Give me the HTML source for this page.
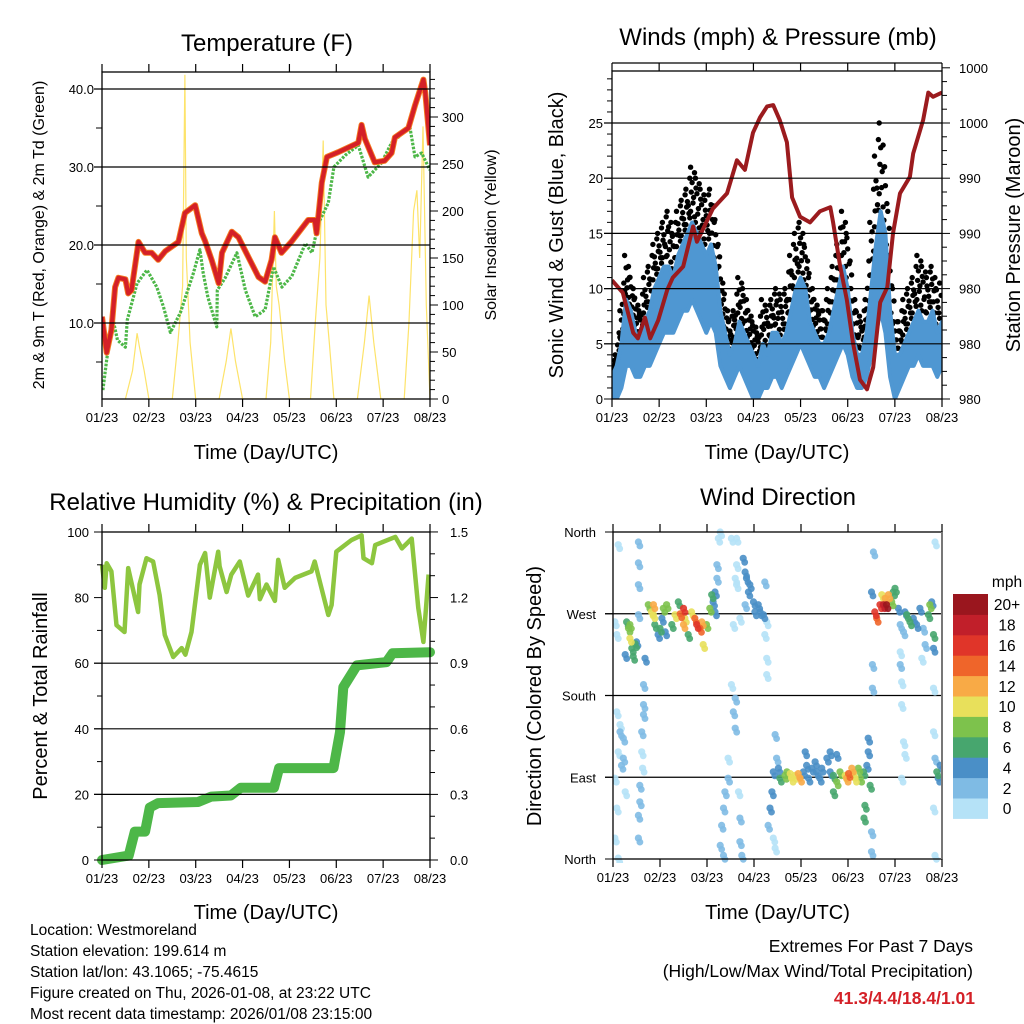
<!DOCTYPE html>
<html><head><meta charset="utf-8"><style>
html,body{margin:0;padding:0;background:#fff;}
svg{display:block;font-family:"Liberation Sans",Arial,sans-serif;}
</style></head><body>
<svg id="chart" xmlns="http://www.w3.org/2000/svg" width="1024" height="1024" viewBox="0 0 1024 1024">
<rect width="1024" height="1024" fill="#fff"/>
<g id="g1"></g>
<g id="g2"></g>
<g id="g3"></g>
<g id="g4"></g>
<g font-size="15.5" fill="#000">
<text x="30" y="935">Location: Westmoreland</text>
<text x="30" y="956">Station elevation: 199.614 m</text>
<text x="30" y="977">Station lat/lon: 43.1065; -75.4615</text>
<text x="30" y="998">Figure created on Thu, 2026-01-08, at 23:22 UTC</text>
<text x="30" y="1019">Most recent data timestamp: 2026/01/08 23:15:00</text>
</g>
<g text-anchor="end">
<text x="973" y="952" font-size="17.5">Extremes For Past 7 Days</text>
<text x="973" y="977" font-size="17.5">(High/Low/Max Wind/Total Precipitation)</text>
<text x="975" y="1004" font-size="17.5" font-weight="bold" fill="#d42027">41.3/4.4/18.4/1.01</text>
</g>
</svg>
<script>
// ---------- DATA ----------
const dayTicks = ["01/23","02/23","03/23","04/23","05/23","06/23","07/23","08/23"];
// Temperature (F)
const tDays = [0,0.1,0.2,0.28,0.35,0.5,0.56,0.63,0.78,0.92,1.06,1.2,1.35,1.63,1.77,1.99,2.13,2.2,2.34,2.49,2.56,2.77,2.91,3.12,3.34,3.48,3.62,3.69,3.83,4.04,4.4,4.54,4.58,4.69,4.8,5.04,5.47,5.54,5.61,5.82,6.03,6.18,6.25,6.54,6.68,6.86,6.9,7.0];
const tVals = [10.8,6.2,9.1,14.6,15.8,15.6,13.8,14.2,20.4,19,19,18.1,19.2,20.4,24.1,25.1,21.5,20.5,18.1,15.1,19,21.7,21,18.5,15.9,15.3,18.1,21,19,20.4,23.2,23.2,21.5,28,31.3,31.9,33.1,35.4,33.6,30.6,30.8,31.8,33.8,35,37.9,41.2,39.5,32.8];
const tdDays = [0.02,0.1,0.23,0.33,0.5,0.54,0.75,0.96,1.17,1.31,1.46,1.67,1.95,2.09,2.16,2.26,2.45,2.46,2.63,2.88,3.06,3.27,3.48,3.66,3.84,4.05,4.34,4.48,4.62,4.83,4.95,5.19,5.47,5.68,5.96,6.18,6.57,6.68,6.82,7.0];
const tdVals = [1.4,5.3,10.6,7.8,6.9,10.4,15.1,16.8,14.6,12.1,8.8,11.3,16.4,19.4,16.4,13.3,9.5,14.2,15.8,19,14.2,10.8,11.7,17.2,14.6,16,20.2,19,22.8,25.4,30,31.5,32.8,28.7,30.5,33.1,35.1,31.3,31.8,29.6];
const solDays = [0.5,0.65,0.75,0.8,0.9,1.0, 1.5,1.62,1.72,1.77,1.8,1.88,2.0, 2.5,2.65,2.75,2.85,3.0, 3.5,3.6,3.68,3.72,3.78,3.9,4.0, 4.45,4.55,4.65,4.72,4.78,4.85,4.95, 5.45,5.6,5.7,5.8,5.95, 6.45,6.55,6.65,6.72,6.78,6.85,6.92,7.0];
const solVals = [0,30,70,55,30,0, 0,60,120,345,150,60,0, 0,40,75,40,0, 0,60,200,120,100,40,0, 0,80,150,275,100,60,0, 0,60,110,60,0, 0,80,200,222,150,290,100,0];
const tLeftTicks = ["10.0","20.0","30.0","40.0"];
const solTicks = ["0","50","100","150","200","250","300"];
// Winds (mph), every 0.1 day
const windLow  = [0,0,1,3,3,2,2,3,3,4,5,6,6,6,7,8,8,9,8,7,6,7,6,3,2,1,2,3,2,1,0,0,1,1,2,2,1,2,3,4,5,4,3,2,2,1,2,3,4,5,4,2,1,1,2,4,6,8,6,2,0,1,2,3,3,4,3,3,3,2,3];
const windHigh = [2,3,5,9,8,6,5,7,8,10,11,12,12,11,13,14,15,16,15,14,13,14,12,8,6,4,5,7,6,5,4,3,5,4,6,6,5,6,8,10,11,10,7,6,5,5,6,8,10,12,10,6,4,4,6,10,14,17,15,8,4,4,5,6,7,8,7,7,8,6,7];
const windGust = [3,4,8,13,11,9,8,11,12,14,15,16,17,15,17,18,19,21,20,19,18,19,16,12,9,7,8,11,10,8,7,6,9,8,9,10,9,10,13,15,16,14,11,9,8,8,10,12,14,17,15,10,8,7,9,16,22,25,21,13,7,7,9,10,11,13,12,11,12,10,11];
const presDays = [0,0.23,0.45,0.55,0.7,0.81,0.98,1.17,1.29,1.51,1.72,1.8,2.14,2.44,2.65,2.82,2.99,3.14,3.29,3.42,3.56,3.71,3.82,3.99,4.2,4.41,4.63,4.69,4.84,4.98,5.11,5.26,5.41,5.54,5.69,5.84,5.96,6.11,6.32,6.39,6.6,6.71,6.81,7.0];
const presVals = [986.6,985.7,982.8,982.4,983.9,982.4,983.7,985.9,986.8,987.6,990.5,989.4,991.8,992.9,995.3,994.6,997.3,998.4,999.2,999.3,998.2,996.6,992.6,991.2,990.8,991.6,991.9,990.8,987.6,985.2,982.1,979.4,978.7,980.3,985.0,986.1,990.0,992.9,994.1,995.8,998.2,1000.2,999.9,1000.2];
const windTicks = ["0","5","10","15","20","25"];
const presTicks = ["980","980","980","990","990","1000","1000"];
// RH & precip
const rhDays = [0,0.06,0.1,0.2,0.31,0.48,0.56,0.77,0.8,0.95,1.09,1.23,1.34,1.52,1.7,1.78,1.91,2.09,2.2,2.3,2.48,2.51,2.66,2.76,2.94,3.12,3.33,3.37,3.51,3.69,3.76,3.9,4.12,4.47,4.54,4.83,4.9,5.0,5.33,5.54,5.58,5.76,5.83,6.26,6.4,6.61,6.75,6.86,6.97];
const rhVals = [90,83,90.5,88,71.6,69.5,89,75.6,84,92,91,80.8,68.6,61.9,64.6,62.6,69.5,90,93.6,80,94,89.5,81.7,87,91,80.6,87,79.5,84,79,91.5,83,86,88,91,74.7,77.7,94,97.6,99,92,90.5,96,98.5,95,98,76.8,66.5,87];
const prDays = [0,0.57,0.7,0.92,1.02,1.2,2.05,2.33,2.75,2.96,3.67,3.78,4.94,5.08,5.15,5.44,6.07,6.2,7.0];
const prVals = [0,0.02,0.13,0.13,0.24,0.26,0.265,0.29,0.295,0.33,0.33,0.42,0.42,0.585,0.79,0.89,0.905,0.945,0.95];
const rhTicks = ["0","20","40","60","80","100"];
const prTicks = ["0.0","0.3","0.6","0.9","1.2","1.5"];
// Wind direction observations
const dirDay = [.08,.15,.22,.11,.18,.04,.26,.08,.15,.22,.04,.11,.08,.04,.11,
.29,.33,.36,.40,.43,.47,.50,.36,.26,
.54,.54,.54,.54,.57,.54,.54,.57,
.68,.65,.65,.61,.65,.61,.63,
.75,.82,.86,.89,.96,1.04,1.07,1.14,1.25,1.32,1.39,1.43,1.50,1.53,1.60,1.67,1.74,1.78,1.85,1.89,1.92,1.99,2.06,2.10,2.13,2.17,2.21,2.17,2.21,2.24,.86,1.50,1.0,1.11,
2.28,2.52,2.60,2.56,2.52,2.60,2.56,2.60,2.45,2.45,2.38,2.35,2.31,2.28,2.35,2.67,2.70,2.70,2.74,2.63,
2.77,2.81,2.84,2.88,2.81,2.91,2.99,3.02,3.09,3.13,3.20,3.23,3.27,3.23,3.27,3.27,2.63,2.70,2.63,
3.30,3.34,3.38,3.41,3.48,3.45,3.55,3.66,3.77,3.87,3.98,4.05,4.12,4.23,4.33,4.44,4.55,4.62,4.69,4.76,4.83,4.94,5.01,5.08,5.15,5.26,5.33,5.40,5.43,5.43,5.47,5.36,5.34,4.69,4.76,3.41,3.45,4.09,4.62,3.70,3.80,3.94,4.16,4.30,4.40,4.97,5.12,5.22,3.52,
5.54,5.50,5.52,5.52,5.50,5.50,
5.57,5.61,5.68,5.75,5.79,5.82,5.86,5.93,5.96,6.0,5.72,
6.07,6.11,6.18,6.21,6.25,6.32,6.39,6.46,6.53,6.60,6.64,6.71,6.74,6.78,6.82,6.82,6.57,6.11,6.11,6.14,6.14,6.18,6.14,6.21,6.82,6.85,6.89,6.92,6.96,6.82,6.85,6.85,6.82];
const dirDeg = [162,148,133,118,103,89,74,56,140,111,23,1,247,261,346,
261,254,243,232,223,237,239,258,225,
349,326,302,269,81,48,23,63,
221,192,170,140,159,118,100,
280,272,280,258,247,265,276,280,258,269,283,270,258,265,247,272,265,258,254,261,236,258,276,291,283,272,309,294,324,353,269,276,254,250,
360,353,309,258,192,177,162,144,111,89,74,56,37,15,4,74,45,19,4,353,
331,316,309,294,280,302,283,272,280,272,269,305,261,247,221,203,324,265,302,
37,56,74,96,111,137,89,92,94,92,89,96,103,100,96,100,111,96,92,85,96,92,94,100,89,89,96,103,133,118,81,59,45,74,115,23,12,118,118,96,89,94,89,107,89,89,94,100,100,
338,294,214,188,30,8,
272,265,280,280,287,280,291,283,294,298,291,
276,258,250,272,269,261,265,258,276,254,236,269,280,283,247,232,221,228,214,195,170,129,89,115,140,111,96,89,103,56,4,349,188];
const dirSpd = [0,1,2,1,2,0,1,0,3,2,0,0,1,1,0,
7,9,10,6,6,7,5,8,4,
2,2,3,2,3,2,3,2,
4,3,3,2,3,1,1,
8,11,13,6,5,4,9,8,7,10,7,14,13,11,7,10,15,16,14,12,10,9,8,7,5,4,3,5,2,1,11,17,6,5,
0,0,0,1,1,2,2,2,1,2,3,2,2,2,2,1,2,2,2,0,
4,4,4,4,3,4,4,5,4,4,4,2,1,1,1,0,1,1,1,
3,4,4,4,3,3,6,8,10,10,13,4,4,4,4,4,4,4,7,8,9,11,14,12,10,9,7,5,4,4,6,6,6,7,5,1,1,4,5,9,11,12,4,4,4,13,11,8,4,
2,4,3,3,2,3,
17,15,16,19,13,20,12,9,7,6,10,
5,3,2,4,7,6,5,4,4,3,2,7,8,4,6,5,1,1,3,1,1,1,1,1,1,3,6,5,4,1,1,1,1];
const spdLabels = ["0","2","4","6","8","10","12","14","16","18","20+"];
const spdColors = ["#b5e2f7","#7fbbe4","#4a8fc7","#47a66e","#7dc24c","#e8e05b","#f8aa46","#ef652a","#e03529","#c11f2a","#9a161e"];
const dirTicks = ["North","East","South","West","North"];

// ---------- HELPERS ----------
const NS = "http://www.w3.org/2000/svg";
function mk(tag, attrs, parent){ const e=document.createElementNS(NS,tag); for(const k in attrs) e.setAttribute(k,attrs[k]); parent.appendChild(e); return e; }
function txt(parent, x, y, s, size, anchor, rot){
  const e = mk('text',{x:x,y:y,'font-size':size,'text-anchor':anchor||'middle'},parent);
  if(rot) e.setAttribute('transform','rotate(-90 '+x+' '+y+')');
  e.textContent = s; return e;
}
function pathFrom(xs, ys, fx, fy){ let d=''; for(let i=0;i<xs.length;i++){ d+=(i?'L':'M')+fx(xs[i]).toFixed(1)+' '+fy(ys[i]).toFixed(1);} return d; }
function frame(g, x0, x1, y0, y1){
  const r = mk('rect',{x:x0,y:y0,width:x1-x0,height:y1-y0,fill:'none',stroke:'#000','stroke-width':1.3},g);
   
}
function xAxis(g, x0, x1, y0, y1, title, ty){
  const ax = mk('g',{},g);
   
  for(let i=0;i<dayTicks.length;i++){
    const x = x0 + (x1-x0)*i/(dayTicks.length-1);
    mk('line',{x1:x,x2:x,y1:y1,y2:y1+8,stroke:'#000','stroke-width':1.2},ax);
    mk('line',{x1:x,x2:x,y1:y0,y2:y0-8,stroke:'#000','stroke-width':1.2},ax);
    const t = txt(ax, x, y1+23, dayTicks[i], 13);
     
  }
  const t = txt(ax, (x0+x1)/2, ty, title, 20);
   
}
function grid(g, x0, x1, y, ext){
  const l = mk('line',{x1:x0-(ext||0),x2:x1,y1:y,y2:y,stroke:'#000','stroke-width':1.2},g);
   
}

// ---------- PANEL 1: TEMPERATURE ----------
(function(){
  const g = document.getElementById('g1');
  const X0=102,X1=430,Y0=72,Y1=399;
  const xT = d => X0 + d*(X1-X0)/7;
  const yT = t => 401 - t*7.8;
  const yS = s => 399 - s*0.94;
  const clip = mk('clipPath',{id:'c1'},g); mk('rect',{x:X0,y:Y0,width:X1-X0,height:Y1-Y0},clip);
  const pg = mk('g',{'clip-path':'url(#c1)'},g);
  const sol = mk('path',{d:pathFrom(solDays,solVals,xT,yS),fill:'none',stroke:'#fde36a','stroke-width':1.2},pg);
   
  for(let i=0;i<tLeftTicks.length;i++){ grid(g,X0,X1,yT(parseFloat(tLeftTicks[i])),8); }
  const ti = [5,15,25,35];
  ti.forEach(v=>mk('line',{x1:X0,x2:X0-6,y1:yT(v),y2:yT(v),stroke:'#000','stroke-width':1},g));
  const td = mk('path',{d:pathFrom(tdDays,tdVals,xT,yT),fill:'none',stroke:'#4db748','stroke-width':3.2,'stroke-dasharray':'2.6 1.4','stroke-linejoin':'round'},pg);
   
  const t9 = mk('path',{d:pathFrom(tDays,tVals,xT,yT),fill:'none',stroke:'#f47b20','stroke-width':6,'stroke-linejoin':'round'},pg);
   
  const t2 = mk('path',{d:pathFrom(tDays,tVals,xT,yT),fill:'none',stroke:'#d42027','stroke-width':4.2,'stroke-linejoin':'round'},pg);
   
  frame(g,X0,X1,Y0,Y1);
  for(let i=0;i<tLeftTicks.length;i++){
    const t = txt(g, X0-8, yT(parseFloat(tLeftTicks[i]))+5, tLeftTicks[i], 13, 'end');
     
  }
  for(let v=0; v<=340; v+=10){
    const major = v%50===0;
    mk('line',{x1:X1,x2:X1+(major?8:5),y1:yS(v),y2:yS(v),stroke:'#000','stroke-width':1},g);
  }
  for(let i=0;i<solTicks.length;i++){
    const t = txt(g, X1+12, yS(parseFloat(solTicks[i]))+5, solTicks[i], 13, 'start');
     
  }
  xAxis(g,X0,X1,Y0,Y1,'Time (Day/UTC)',459);
  let t = txt(g, 267, 51, 'Temperature (F)', 24);
   
  t = txt(g, 44, 235, '2m & 9m T (Red, Orange) & 2m Td (Green)', 16, 'middle', true);
   
  t = txt(g, 496, 235, 'Solar Insolation (Yellow)', 16, 'middle', true);
   
})();

// ---------- PANEL 2: WINDS & PRESSURE ----------
(function(){
  const g = document.getElementById('g2');
  const X0=612,X1=942,Y0=71,Y1=399;
  const xW = d => X0 + d*(X1-X0)/7;
  const yW = v => 399 - v*11.04;
  const yP = p => 399 - (p-978)*13.8;
  const clip = mk('clipPath',{id:'c2'},g); mk('rect',{x:X0,y:Y0,width:X1-X0,height:Y1-Y0},clip);
  const pg = mk('g',{'clip-path':'url(#c2)'},g);
  for(let i=1;i<windTicks.length;i++) grid(g,X0,X1,yW(parseFloat(windTicks[i])),8);
  const gust = mk('g',{fill:'#000'},pg);
   
  const fr = [1,0.72,0.45,0.2];
  for(let i=0;i<windGust.length-1;i++){
    for(let s=0;s<2;s++){
      const u = s/2;
      const d = (i+u)*0.1;
      const h = windHigh[i]+(windHigh[i+1]-windHigh[i])*u;
      const gv = windGust[i]+(windGust[i+1]-windGust[i])*u;
      fr.forEach((f,k)=>{
        const c = mk('circle',{cx:(xW(d)+((k+s)%3-1)*1.5).toFixed(1),cy:yW(h+(gv-h)*f).toFixed(1),r:2.7},gust);
         
      });
    }
  }
  const days = windLow.map((v,i)=>i*0.1);
  let d = pathFrom(days,windHigh,xW,yW);
  for(let i=days.length-1;i>=0;i--) d += 'L'+xW(days[i]).toFixed(1)+' '+yW(windLow[i]).toFixed(1);
  const band = mk('path',{d:d+'Z',fill:'#4f97d2',stroke:'#4f97d2','stroke-width':4,'stroke-linejoin':'round'},pg);
   
  const pr = mk('path',{d:pathFrom(presDays,presVals,xW,yP),fill:'none',stroke:'#9b1b1e','stroke-width':4,'stroke-linejoin':'round'},pg);
   
  frame(g,X0,X1,Y0,Y1);
  mk('line',{x1:X0,x2:X1,y1:63,y2:63,stroke:'#000','stroke-width':1.2},g);
  for(let v=0; v<=29; v++){
    const major = v%5===0;
    mk('line',{x1:X0,x2:X0-(major?8:5),y1:yW(v),y2:yW(v),stroke:'#000','stroke-width':1},g);
  }
  for(let i=0;i<windTicks.length;i++){
    const t = txt(g, X0-9, yW(parseFloat(windTicks[i]))+5, windTicks[i], 13, 'end');
     
  }
  for(let i=0;i<presTicks.length;i++){
    const y = yP(978 + i*4);
    mk('line',{x1:X1,x2:X1+8,y1:y,y2:y,stroke:'#000','stroke-width':1},g);
    for(let k=1;k<4;k++) if(i<presTicks.length-1) mk('line',{x1:X1,x2:X1+5,y1:yP(978+i*4+k),y2:yP(978+i*4+k),stroke:'#000','stroke-width':1},g);
    const t = txt(g, X1+17, y+5, presTicks[i], 13, 'start');
     
  }
  xAxis(g,X0,X1,Y0,Y1,'Time (Day/UTC)',459);
  let t = txt(g, 778, 45, 'Winds (mph) & Pressure (mb)', 24);
   
  t = txt(g, 563, 235, 'Sonic Wind & Gust (Blue, Black)', 20, 'middle', true);
   
  t = txt(g, 1020, 235, 'Station Pressure (Maroon)', 20, 'middle', true);
   
})();

// ---------- PANEL 3: RH & PRECIP ----------
(function(){
  const g = document.getElementById('g3');
  const X0=102,X1=430,Y0=532,Y1=860;
  const xR = d => X0 + d*(X1-X0)/7;
  const yR = r => 860 - r*3.28;
  const yPr = p => 860 - p*218.7;
  const clip = mk('clipPath',{id:'c3'},g); mk('rect',{x:X0-8,y:Y0,width:X1-X0+16,height:Y1-Y0+8},clip);
  const pg = mk('g',{'clip-path':'url(#c3)'},g);
  [20,40,60].forEach(v=>grid(g,X0,X1,yR(v),8));
  const rh = mk('path',{d:pathFrom(rhDays,rhVals,xR,yR),fill:'none',stroke:'#8dc63f','stroke-width':4.5,'stroke-linejoin':'round'},pg);
   
  const pr = mk('path',{d:pathFrom(prDays,prVals,xR,yPr),fill:'none',stroke:'#4db748','stroke-width':10,'stroke-linejoin':'round','stroke-linecap':'round'},pg);
   
  frame(g,X0,X1,Y0,Y1);
  for(let i=0;i<rhTicks.length;i++){
    const v = parseFloat(rhTicks[i]);
    mk('line',{x1:X0,x2:X0-8,y1:yR(v),y2:yR(v),stroke:'#000','stroke-width':1},g);
    if(i<rhTicks.length-1) mk('line',{x1:X0,x2:X0-5,y1:yR(v+10),y2:yR(v+10),stroke:'#000','stroke-width':1},g);
    const t = txt(g, X0-13, yR(v)+5, rhTicks[i], 13, 'end');
     
  }
  for(let i=0;i<prTicks.length;i++){
    const v = parseFloat(prTicks[i]);
    mk('line',{x1:X1,x2:X1+8,y1:yPr(v),y2:yPr(v),stroke:'#000','stroke-width':1},g);
    for(let k=1;k<3;k++) if(i<prTicks.length-1) mk('line',{x1:X1,x2:X1+5,y1:yPr(v+k*0.1),y2:yPr(v+k*0.1),stroke:'#000','stroke-width':1},g);
    const t = txt(g, X1+20, yPr(v)+5, prTicks[i], 13, 'start');
     
  }
  xAxis(g,X0,X1,Y0,Y1,'Time (Day/UTC)',919);
  let t = txt(g, 266, 510, 'Relative Humidity (%) & Precipitation (in)', 24);
   
  t = txt(g, 47, 696, 'Percent & Total Rainfall', 20, 'middle', true);
   
})();

// ---------- PANEL 4: WIND DIRECTION ----------
(function(){
  const g = document.getElementById('g4');
  const X0=613,X1=942,Y0=532,Y1=859;
  const xD = d => X0 + d*(X1-X0)/7;
  const yD = a => 859 - a*(Y1-Y0)/360;
  const colorFor = s => spdColors[Math.min(10, Math.floor(s/2))];
  [90,180,270].forEach(v=>grid(g,X0,X1,yD(v),8));
  const clip = mk('clipPath',{id:'c4'},g); mk('rect',{x:X0,y:Y0-4,width:X1-X0,height:Y1-Y0+8},clip);
  const pg = mk('g',{'clip-path':'url(#c4)','fill-opacity':0.9},g);
   
  const order = dirSpd.map((s,i)=>i).sort((a,b)=>dirSpd[a]-dirSpd[b]);
  order.forEach(i=>{
    const c = mk('circle',{cx:xD(dirDay[i]).toFixed(1),cy:yD(dirDeg[i]).toFixed(1),r:3.6,fill:colorFor(dirSpd[i])},pg);
     
    const c2 = mk('circle',{cx:(xD(dirDay[i])+1.5).toFixed(1),cy:(yD(dirDeg[i])+4).toFixed(1),r:3.4,fill:colorFor(dirSpd[i])},pg);
     
  });
  frame(g,X0,X1,Y0,Y1);
  mk('line',{x1:X1,x2:X1,y1:Y0,y2:Y1,stroke:'#777','stroke-width':2},g);
  for(let i=0;i<dirTicks.length;i++){
    const y = yD(i*90);
    mk('line',{x1:X0,x2:X0-8,y1:y,y2:y,stroke:'#000','stroke-width':1},g);
    const t = txt(g, X0-17, y+5, dirTicks[i], 13, 'end');
     
  }
  xAxis(g,X0,X1,Y0,Y1,'Time (Day/UTC)',919);
  const cb = mk('g',{},g);
   
  const bh = 20.4;
  for(let i=0;i<spdColors.length;i++){
    const y = 594 + (spdColors.length-1-i)*bh;
    const r = mk('rect',{x:953,y:y,width:35,height:bh+0.5,fill:spdColors[i]},cb);
     
    const t = txt(cb, 1007, y+bh/2+6, spdLabels[i], 15.5);
     
  }
  let t = txt(cb, 1007, 587, 'mph', 15.5);
   
  t = txt(g, 778, 505, 'Wind Direction', 24);
   
  t = txt(g, 541, 696, 'Direction (Colored By Speed)', 20, 'middle', true);
   
})();
</script>
</body></html>
